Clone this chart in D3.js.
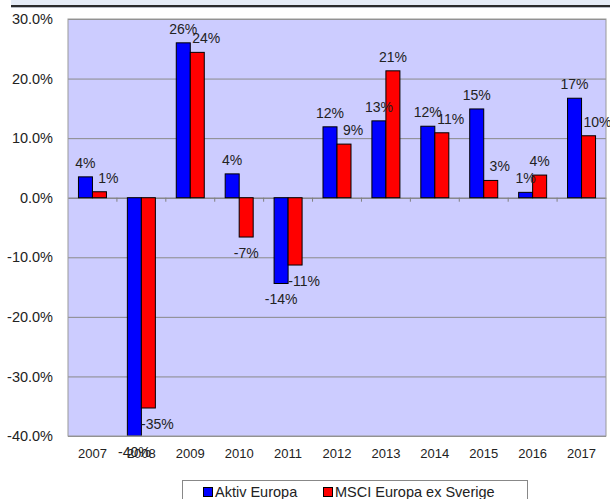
<!DOCTYPE html>
<html>
<head>
<meta charset="utf-8">
<script src="https://cdn.jsdelivr.net/npm/d3@7"></script>
<style>
	body { margin: 0; background: #fff; }
	text { font-family: Arial, "Liberation Sans", sans-serif; fill: #222; }
</style>
</head>
<body>
<div id="chart"></div>
<script>
// data
var years = ["2007", "2008", "2009", "2010", "2011", "2012", "2013", "2014", "2015", "2016", "2017"];
var seriesNames = ["Aktiv Europa", "MSCI Europa ex Sverige"];
var aktivEuropa = [3.5, -40, 26, 4, -14.4, 11.9, 12.9, 12, 14.9, 0.9, 16.7];
var msciEuropa = [1, -35.3, 24.4, -6.6, -11.3, 9, 21.3, 10.9, 2.9, 3.8, 10.4];
var yTicks = [30, 20, 10, 0, -10, -20, -30, -40];
var colors = ["#0000ff", "#ff0000"];

var W = 610, H = 499;
var plot = {left: 68, top: 19, right: 606, bottom: 436};

var svg = d3.select("#chart").append("svg")
	.attr("width", W)
	.attr("height", H);

// header strip at the top
svg.append("rect")
	.attr("x", 11).attr("y", 0)
	.attr("width", W - 11).attr("height", 5)
	.attr("fill", "#e6ecf6");
svg.append("rect")
	.attr("x", 11).attr("y", 5)
	.attr("width", W - 11).attr("height", 2)
	.attr("fill", "#2b2b2b");
svg.append("rect")
	.attr("x", 11).attr("y", 7)
	.attr("width", W - 11).attr("height", 1)
	.attr("fill", "#b8bcc4");

var xS = d3.scaleBand()
	.domain(years)
	.range([plot.left, plot.right]);

var barW = 14;
var xInner = d3.scaleBand()
	.domain(seriesNames)
	.range([xS.bandwidth() / 2 - barW, xS.bandwidth() / 2 + barW]);

var yS = d3.scaleLinear()
	.domain([-40, 30])
	.range([plot.bottom, plot.top]);

svg.append("clipPath")
	.attr("id", "plotclip")
	.append("rect")
		.attr("x", plot.left)
		.attr("y", plot.top)
		.attr("width", plot.right - plot.left)
		.attr("height", plot.bottom - plot.top);

// plot background
svg.append("rect")
	.attr("x", plot.left)
	.attr("y", plot.top)
	.attr("width", plot.right - plot.left)
	.attr("height", plot.bottom - plot.top)
	.attr("fill", "#ccccff");

// gridlines
svg.append("g")
	.attr("transform", "translate(" + plot.left + ",0)")
	.call(d3.axisLeft(yS)
		.tickValues(yTicks)
		.tickSize(-(plot.right - plot.left))
		.tickFormat(""))
	.call(function(g) {
		g.select(".domain").remove();
		g.selectAll("line").attr("stroke", "#8a8a8a");
	});

// y tick labels
svg.append("g")
	.selectAll("text")
	.data(yTicks)
	.join("text")
		.attr("x", 53)
		.attr("y", function(d) { return yS(d); })
		.attr("dy", "0.35em")
		.attr("text-anchor", "end")
		.style("font-size", "14.5px")
		.text(function(d) { return d.toFixed(1) + "%"; });

// zero axis with small ticks between the years
svg.append("g")
	.attr("transform", "translate(0," + yS(0) + ")")
	.call(d3.axisBottom(xS).tickSize(0).tickFormat(""))
	.call(function(g) {
		g.select(".domain").attr("stroke", "#808080");
	});
svg.append("g")
	.selectAll("line")
	.data(years.slice(1))
	.join("line")
		.attr("x1", function(d) { return xS(d); })
		.attr("x2", function(d) { return xS(d); })
		.attr("y1", yS(0))
		.attr("y2", yS(0) + 4)
		.attr("stroke", "#808080");

// bars
var rows = years.map(function(y, i) {
	return {year: y, vals: [
		{name: seriesNames[0], v: aktivEuropa[i], c: colors[0]},
		{name: seriesNames[1], v: msciEuropa[i], c: colors[1]}
	]};
});

var groups = svg.append("g")
	.attr("clip-path", "url(#plotclip)")
	.selectAll("g")
	.data(rows)
	.join("g")
		.attr("transform", function(d) { return "translate(" + xS(d.year) + ",0)"; });

groups.selectAll("rect")
	.data(function(d) { return d.vals; })
	.join("rect")
		.attr("x", function(d) { return xInner(d.name); })
		.attr("width", xInner.bandwidth())
		.attr("y", function(d) { return yS(Math.max(0, d.v)); })
		.attr("height", function(d) { return Math.abs(yS(d.v) - yS(0)); })
		.attr("fill", function(d) { return d.c; })
		.attr("stroke", "#000")
		.attr("stroke-width", 1);

// plot border
svg.append("rect")
	.attr("x", plot.left)
	.attr("y", plot.top)
	.attr("width", plot.right - plot.left)
	.attr("height", plot.bottom - plot.top)
	.attr("fill", "none")
	.attr("stroke", "#999");

// x tick labels
svg.append("g")
	.selectAll("text")
	.data(years)
	.join("text")
		.attr("x", function(d) { return xS(d) + xS.bandwidth() / 2; })
		.attr("y", 453)
		.attr("dy", "0.35em")
		.attr("text-anchor", "middle")
		.style("font-size", "13px")
		.text(function(d) { return d; });

// value labels; a red label next to a longer blue bar is nudged right
var labels = svg.append("g");
rows.forEach(function(r) {
	var a = r.vals[0].v, b = r.vals[1].v;
	r.vals.forEach(function(d, i) {
		var yEnd = yS(Math.max(-40, d.v));
		var nudge = (i == 1 && a * b > 0 && Math.abs(b) < Math.abs(a)) ? 9 : 0;
		labels.append("text")
			.attr("x", xS(r.year) + xInner(d.name) + xInner.bandwidth() / 2 + nudge)
			.attr("y", d.v >= 0 ? yEnd - 14 : yEnd + 16)
			.attr("dy", "0.35em")
			.attr("text-anchor", "middle")
			.style("font-size", "14px")
			.text(Math.round(d.v) + "%");
	});
});

// legend
var legend = svg.append("g");
legend.append("rect")
	.attr("x", 182.5)
	.attr("y", 480.5)
	.attr("width", 345)
	.attr("height", 30)
	.attr("fill", "#fff")
	.attr("stroke", "#888");

var legX = [203, 323];
seriesNames.forEach(function(name, i) {
	legend.append("rect")
		.attr("x", legX[i] + 0.5)
		.attr("y", 487.5)
		.attr("width", 9)
		.attr("height", 9)
		.attr("fill", colors[i])
		.attr("stroke", "#000");
	legend.append("text")
		.attr("x", legX[i] + 12)
		.attr("y", 492)
		.attr("dy", "0.35em")
		.style("font-size", "14.5px")
		.text(name);
});
</script>
</body>
</html>
